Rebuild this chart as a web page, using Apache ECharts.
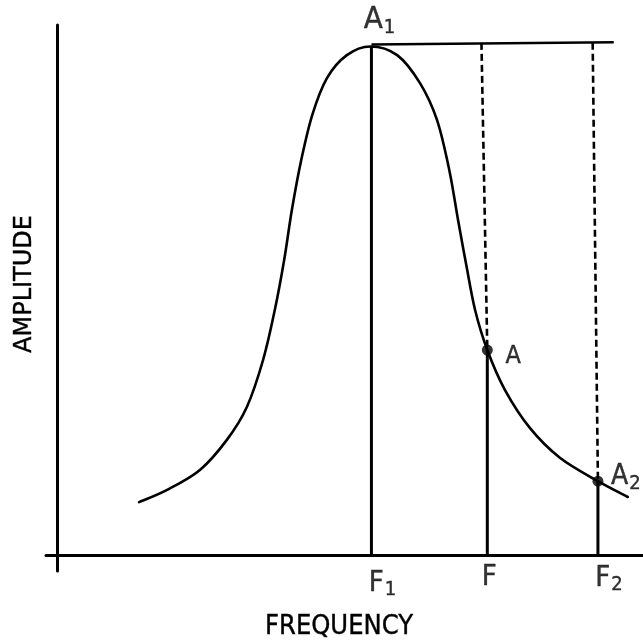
<!DOCTYPE html>
<html><head><meta charset="utf-8">
<script src="https://cdn.jsdelivr.net/npm/echarts@6/dist/echarts.min.js"></script>
<style>html,body{margin:0;padding:0;background:#fff}#c{width:643px;height:643px}</style>
</head><body><div id="c"></div>
<script>
// Resonance curve (frequency units 0..100, amplitude units 0..100)
const curveFreq = [13.9, 18.7, 24.3, 28.9, 32.3, 35.1, 37.1, 38.7, 40.0, 41.6, 43.5, 46.0, 49.4, 53.4,
                   58.0, 61.9, 64.8, 66.9, 68.4, 69.8, 71.3, 73.4, 76.4, 80.7, 85.8, 92.3, 97.4];
const curveAmp  = [10.5, 12.9, 16.8, 22.7, 29.1, 38.4, 48.2, 58.0, 67.7, 77.5, 86.4, 93.6, 98.1, 99.8,
                   98.1, 92.6, 85.4, 75.6, 65.8, 57.0, 48.2, 40.3, 32.5, 25.0, 19.2, 14.6, 11.5];
const markerNames = ['F1', 'F', 'F2'];
const markerFreq  = [53.6, 73.4, 92.3];
const markerAmp   = [99.8, 40.3, 14.6];
const pointNames  = ['A1', 'A', 'A2'];
const peakLineFreq = [53.6, 95.0];
const peakLineAmp  = [100.2, 100.6];
const dashTopFreq  = [72.4, 91.4];
const dashTopAmp   = [100.5, 100.5];
const axisTitles = ['FREQUENCY', 'AMPLITUDE'];

const FONT = '"Liberation Sans Narrow", "DejaVu Sans Condensed", "DejaVu Sans", sans-serif';
const chart = echarts.init(document.getElementById('c'), null, {renderer: 'canvas'});

function sub(name) {
  return name.length > 1 ? '{m|' + name[0] + '}{s|' + name.slice(1) + '}' : '{m|' + name + '}';
}
const rich = (big, small) => ({
  m: {fontSize: big, fontFamily: FONT, color: '#000', textBorderColor: '#000', textBorderWidth: 0.4},
  s: {fontSize: small, fontFamily: FONT, color: '#000', textBorderColor: '#000', textBorderWidth: 0.4,
      padding: [Math.round(big * 0.45), 0, 0, 1]}
});

// smooth curve through the data points (Catmull-Rom -> cubic Bezier), positioned with api.coord
function renderCurve(params, api) {
  const p = curveFreq.map((f, i) => api.coord([f, curveAmp[i]]));
  let d = 'M' + p[0][0] + ' ' + p[0][1];
  for (let i = 0; i < p.length - 1; i++) {
    const p0 = p[Math.max(0, i - 1)], p1 = p[i], p2 = p[i + 1], p3 = p[Math.min(p.length - 1, i + 2)];
    const c1x = p1[0] + (p2[0] - p0[0]) / 6, c1y = p1[1] + (p2[1] - p0[1]) / 6;
    const c2x = p2[0] - (p3[0] - p1[0]) / 6, c2y = p2[1] - (p3[1] - p1[1]) / 6;
    d += ' C' + c1x + ' ' + c1y + ' ' + c2x + ' ' + c2y + ' ' + p2[0] + ' ' + p2[1];
  }
  return {type: 'path', shape: {pathData: d},
    style: {fill: 'none', stroke: '#000', lineWidth: 2.6, lineJoin: 'round', lineCap: 'round'}};
}

const series = [];
series.push({
  type: 'custom', silent: true, renderItem: renderCurve, clip: false,
  data: [[curveFreq[0], curveAmp[0]]]
});
markerFreq.forEach((f, i) => {
  series.push({type: 'line', symbol: 'none', silent: true,
    lineStyle: {color: '#000', width: 3},
    data: [[f, 0], [f, markerAmp[i]]]});
});
series.push({type: 'line', symbol: 'none', silent: true,
  lineStyle: {color: '#000', width: 2.5},
  data: peakLineFreq.map((f, i) => [f, peakLineAmp[i]])});
dashTopFreq.forEach((f, i) => {
  series.push({type: 'line', symbol: 'none', silent: true,
    lineStyle: {color: '#000', width: 2.6, type: [7, 4]},
    data: [[f, dashTopAmp[i]], [markerFreq[i + 1], markerAmp[i + 1]]]});
});
const pointOffsets = [[8, -26], [26, 6], [28, -4]];
const pointSizes = [[31, 20], [25, 17], [28, 20]];
series.push({type: 'scatter', silent: true, z: 5,
  data: markerFreq.map((f, i) => ({
    value: [f, markerAmp[i]],
    symbolSize: i === 0 ? 0 : 11,
    label: {show: true, position: 'inside', offset: pointOffsets[i], color: '#000',
      formatter: sub(pointNames[i]), rich: rich(pointSizes[i][0], pointSizes[i][1])}
  })),
  itemStyle: {color: '#000'}
});
const fOffsets = [[11, 28], [2, 22], [11, 23]];
series.push({type: 'scatter', silent: true, symbolSize: 0,
  data: markerFreq.map((f, i) => ({
    value: [f, 0],
    label: {show: true, position: 'inside', offset: fOffsets[i], color: '#000',
      formatter: sub(markerNames[i]), rich: rich(29, 20)}
  }))
});

const axisCommon = {
  type: 'value', axisTick: {show: false}, axisLabel: {show: false}, splitLine: {show: false},
  axisLine: {show: true, onZero: true, lineStyle: {color: '#000', width: 3}}
};
chart.setOption({
  animation: false,
  backgroundColor: '#fff',
  grid: {left: 46, right: 0, top: 25, bottom: 72},
  xAxis: Object.assign({}, axisCommon, {min: -2, max: 100}),
  yAxis: Object.assign({}, axisCommon, {min: -3, max: 104}),
  graphic: [
    {type: 'text', x: 339, y: 627, style: {text: axisTitles[0], fontSize: 27, fontFamily: FONT,
      fill: '#000', stroke: '#000', lineWidth: 0.4,
      textAlign: 'center', textVerticalAlign: 'middle', align: 'center', verticalAlign: 'middle'}},
    {type: 'text', x: 25, y: 284, rotation: Math.PI / 2, style: {text: axisTitles[1], fontSize: 24,
      fontFamily: '"DejaVu Sans", sans-serif', fill: '#000', stroke: '#000', lineWidth: 0.4,
      textAlign: 'center', textVerticalAlign: 'middle', align: 'center', verticalAlign: 'middle'}}
  ],
  series: series
});
</script></body></html>
